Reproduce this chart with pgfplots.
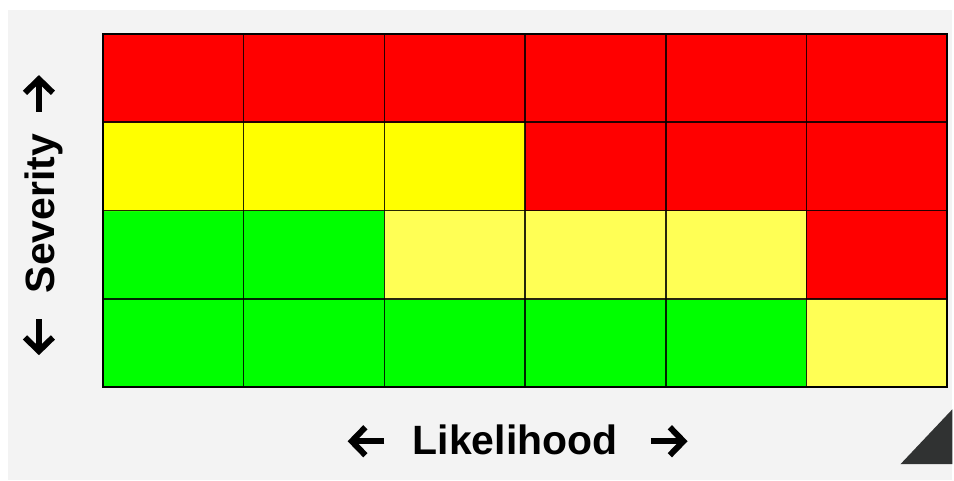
\documentclass[border=0pt]{standalone}
\usepackage{pgfplots}
\pgfplotsset{compat=1.18}
\usepackage{fontspec}
\setmainfont{Liberation Sans}
\definecolor{panel}{HTML}{F3F3F3}
\definecolor{tri}{HTML}{303232}
\pgfplotstableread{
x y c
0 0 0
1 0 0
2 0 0
3 0 0
4 0 0
5 0 1
0 1 0
1 1 0
2 1 1
3 1 1
4 1 1
5 1 3
0 2 2
1 2 2
2 2 2
3 2 3
4 2 3
5 2 3
0 3 3
1 3 3
2 3 3
3 3 3
4 3 3
5 3 3
}\riskdata
\begin{document}
\begin{tikzpicture}
\fill[white] (0,0) rectangle (477pt,-240.5pt);
\fill[panel] (4pt,-5pt) rectangle (477pt,-240.5pt);
\fill[tri] (451pt,-232.5pt) -- (477pt,-205pt) -- (477pt,-232.5pt) -- cycle;
\begin{axis}[
  at={(51.5pt,-194pt)}, anchor=south west,
  scale only axis, width=423pt, height=177pt,
  xmin=-0.5, xmax=5.5, ymin=-0.5, ymax=3.5,
  enlargelimits=false,
  xtick={-0.5,0.5,1.5,2.5,3.5,4.5,5.5},
  ytick={-0.5,0.5,1.5,2.5,3.5},
  xticklabels={}, yticklabels={},
  major tick length=0pt,
  grid=major,
  major grid style={black, line width=0.8pt, opacity=0.85},
  axis line style={black, line width=0.9pt},
  axis on top,
  colormap={risk}{rgb255=(0,255,0) rgb255=(255,255,85) rgb255=(255,255,0) rgb255=(255,0,0)},
  colormap access=direct,
]
\addplot[matrix plot*, mesh/cols=6, point meta=explicit] table[x=x, y=y, meta=c] {\riskdata};
\end{axis}
\node[anchor=base, font=\fontsize{20.5}{24}\selectfont\bfseries] at (258pt,-227.5pt) {Likelihood};
\begin{scope}[line width=3pt, line join=miter, line cap=butt, black]
% left arrow
\draw (192.5pt,-221pt) -- (176.5pt,-221pt);
\draw (183pt,-214pt) -- (176.2pt,-221pt) -- (183pt,-228pt);
% right arrow
\draw (326pt,-221pt) -- (342pt,-221pt);
\draw (335.5pt,-214pt) -- (342.3pt,-221pt) -- (335.5pt,-228pt);
% up arrow
\draw (19.5pt,-56pt) -- (19.5pt,-40pt);
\draw (12.5pt,-46.5pt) -- (19.5pt,-39.7pt) -- (26.5pt,-46.5pt);
% down arrow
\draw (19.5pt,-160pt) -- (19.5pt,-175.5pt);
\draw (12.5pt,-169pt) -- (19.5pt,-175.8pt) -- (26.5pt,-169pt);
\end{scope}
\node[rotate=90, anchor=base, font=\fontsize{20.5}{24}\selectfont\bfseries] at (27.5pt,-107pt) {Severity};
\end{tikzpicture}
\end{document}
